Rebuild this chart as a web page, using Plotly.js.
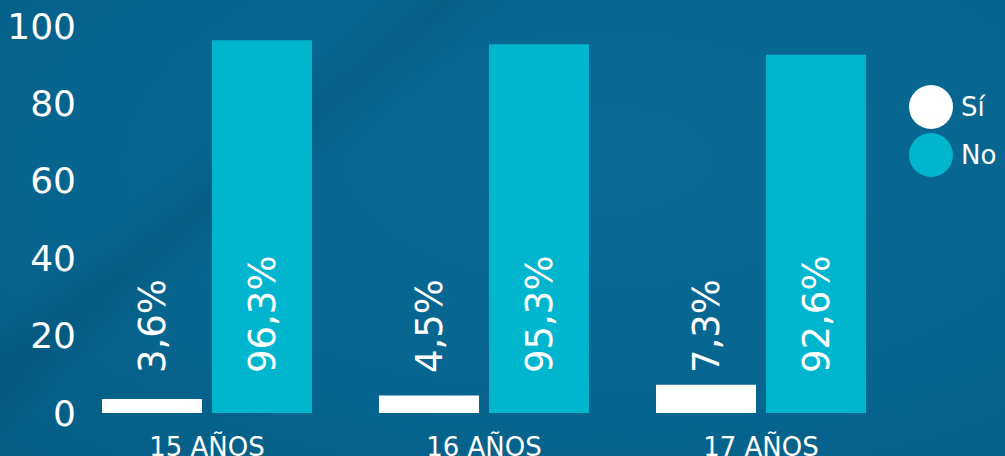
<!DOCTYPE html>
<html>
<head>
<meta charset="utf-8">
<script src="https://cdn.plot.ly/plotly-3.0.1.min.js"></script>
<style>
  html, body { margin: 0; padding: 0; }
  body {
    width: 1005px; height: 456px; overflow: hidden;
    background:
      linear-gradient(140deg, rgba(0,30,50,0) 24%, rgba(0,30,50,0.12) 29%, rgba(0,30,50,0) 34%),
      radial-gradient(ellipse at 60% 35%, #0a6b96 0%, #07658f 60%, #055d84 100%);
  }
  #chart { width: 1005px; height: 456px; }
</style>
</head>
<body>
<div id="chart"></div>
<script>
const categories = ['15 AÑOS', '16 AÑOS', '17 AÑOS'];
const siValues = [3.6, 4.5, 7.3];
const noValues = [96.3, 95.3, 92.6];
const siLabels = ['3,6%', '4,5%', '7,3%'];
const noLabels = ['96,3%', '95,3%', '92,6%'];
const seriesNames = ['Sí', 'No'];
const yTicks = [0, 20, 40, 60, 80, 100];

const WHITE = '#ffffff';
const CYAN = '#00b6cf';
const FONT = 'DejaVu Sans, sans-serif';

const W = 1005, H = 456, T = 26, B = 43;
const PH = H - T - B;

const traces = [
  { type: 'bar', name: seriesNames[0], x: categories, y: siValues,
    marker: { color: WHITE }, showlegend: false, hoverinfo: 'none' },
  { type: 'bar', name: seriesNames[1], x: categories, y: noValues,
    marker: { color: CYAN }, showlegend: false, hoverinfo: 'none' }
];

const annotations = [];
categories.forEach((c, i) => {
  annotations.push({ x: c, y: 0, xref: 'x', yref: 'y', text: siLabels[i],
    textangle: -90, showarrow: false, xanchor: 'center', yanchor: 'bottom',
    xshift: -55, yshift: 38, font: { family: FONT, size: 37, color: '#ffffff' } });
  annotations.push({ x: c, y: 0, xref: 'x', yref: 'y', text: noLabels[i],
    textangle: -90, showarrow: false, xanchor: 'center', yanchor: 'bottom',
    xshift: 55, yshift: 38, font: { family: FONT, size: 37, color: '#ffffff' } });
});

// custom legend (round markers)
const legendColors = [WHITE, CYAN];
const legendY = [107, 155];
const shapes = [];
seriesNames.forEach((n, i) => {
  const yp = (H - B - legendY[i]) / PH;
  shapes.push({ type: 'circle', xref: 'paper', yref: 'paper',
    xsizemode: 'pixel', ysizemode: 'pixel',
    xanchor: 931 / W, yanchor: yp,
    x0: -22, x1: 22, y0: -22, y1: 22,
    fillcolor: legendColors[i], line: { width: 0 } });
  annotations.push({ xref: 'paper', yref: 'paper', x: 959 / W, y: yp,
    xanchor: 'left', yanchor: 'middle', showarrow: false, text: n,
    font: { family: FONT, size: 26, color: '#ffffff' } });
});

const layout = {
  width: W, height: H,
  margin: { l: 0, r: 0, t: T, b: B, pad: 0 },
  paper_bgcolor: 'rgba(0,0,0,0)',
  plot_bgcolor: 'rgba(0,0,0,0)',
  barmode: 'group',
  bargap: 0.2058,
  bargroupgap: 0.0909,
  showlegend: false,
  xaxis: {
    domain: [68.5 / W, 899.5 / W],
    type: 'category',
    showgrid: false, zeroline: false, showline: false, ticks: '',
    ticklabelstandoff: 16,
    tickfont: { family: FONT, size: 26, color: '#ffffff' },
    fixedrange: true
  },
  yaxis: {
    range: [0, 100],
    anchor: 'free', position: 76 / W,
    tickvals: yTicks,
    showgrid: false, zeroline: false, showline: false, ticks: '',
    tickfont: { family: FONT, size: 36, color: '#ffffff' },
    fixedrange: true
  },
  shapes: shapes,
  annotations: annotations
};

Plotly.newPlot('chart', traces, layout, { displayModeBar: false, staticPlot: true });
</script>
</body>
</html>
